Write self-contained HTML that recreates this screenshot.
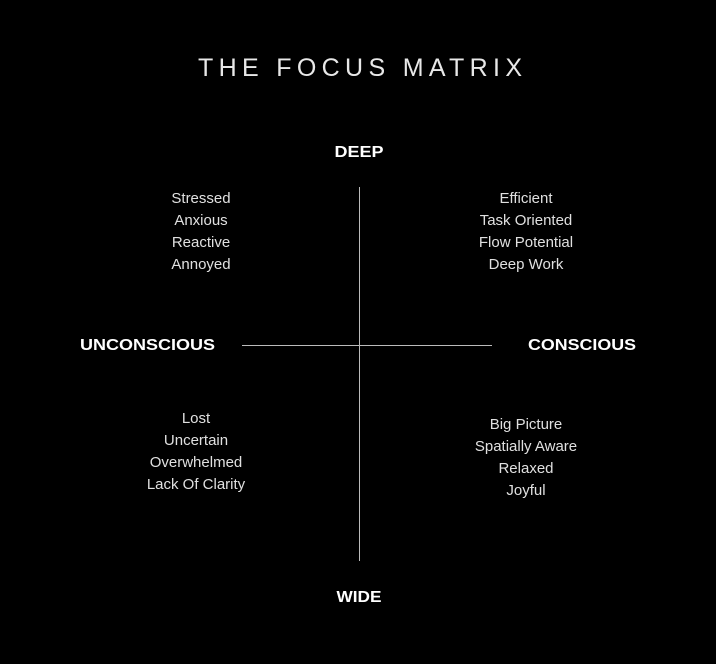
<!DOCTYPE html>
<html><head><style>html,body{margin:0;padding:0;background:#000;}svg{display:block}</style></head>
<body>
<svg width="716" height="664" viewBox="0 0 716 664" xmlns="http://www.w3.org/2000/svg">
<rect width="716" height="664" fill="#000"/>
<text x="198" y="76" font-family="Liberation Sans, sans-serif" font-size="25" font-weight="300" fill="#e8e8e8" textLength="324" lengthAdjust="spacing">THE FOCUS MATRIX</text>
<line x1="359.5" y1="187" x2="359.5" y2="561" stroke="#bbb" stroke-width="1"/>
<line x1="242" y1="345.5" x2="492" y2="345.5" stroke="#bbb" stroke-width="1"/>
<g font-family="Liberation Sans, sans-serif" font-weight="bold" font-size="16" fill="#fff" text-anchor="middle">
<text x="359" y="157" textLength="49" lengthAdjust="spacingAndGlyphs">DEEP</text>
<text x="147.5" y="350" textLength="135" lengthAdjust="spacingAndGlyphs">UNCONSCIOUS</text>
<text x="582" y="350" textLength="108" lengthAdjust="spacingAndGlyphs">CONSCIOUS</text>
<text x="359" y="602" textLength="45" lengthAdjust="spacingAndGlyphs">WIDE</text>
</g>
<g font-family="Liberation Sans, sans-serif" font-size="15" fill="#e0e0e0" text-anchor="middle">
<text x="201" y="203">Stressed</text>
<text x="201" y="225">Anxious</text>
<text x="201" y="247">Reactive</text>
<text x="201" y="269">Annoyed</text>
<text x="526" y="203">Efficient</text>
<text x="526" y="225">Task Oriented</text>
<text x="526" y="247">Flow Potential</text>
<text x="526" y="269">Deep Work</text>
<text x="196" y="423">Lost</text>
<text x="196" y="445">Uncertain</text>
<text x="196" y="467">Overwhelmed</text>
<text x="196" y="489">Lack Of Clarity</text>
<text x="526" y="429">Big Picture</text>
<text x="526" y="451">Spatially Aware</text>
<text x="526" y="473">Relaxed</text>
<text x="526" y="495">Joyful</text>
</g>
</svg>
</body></html>
